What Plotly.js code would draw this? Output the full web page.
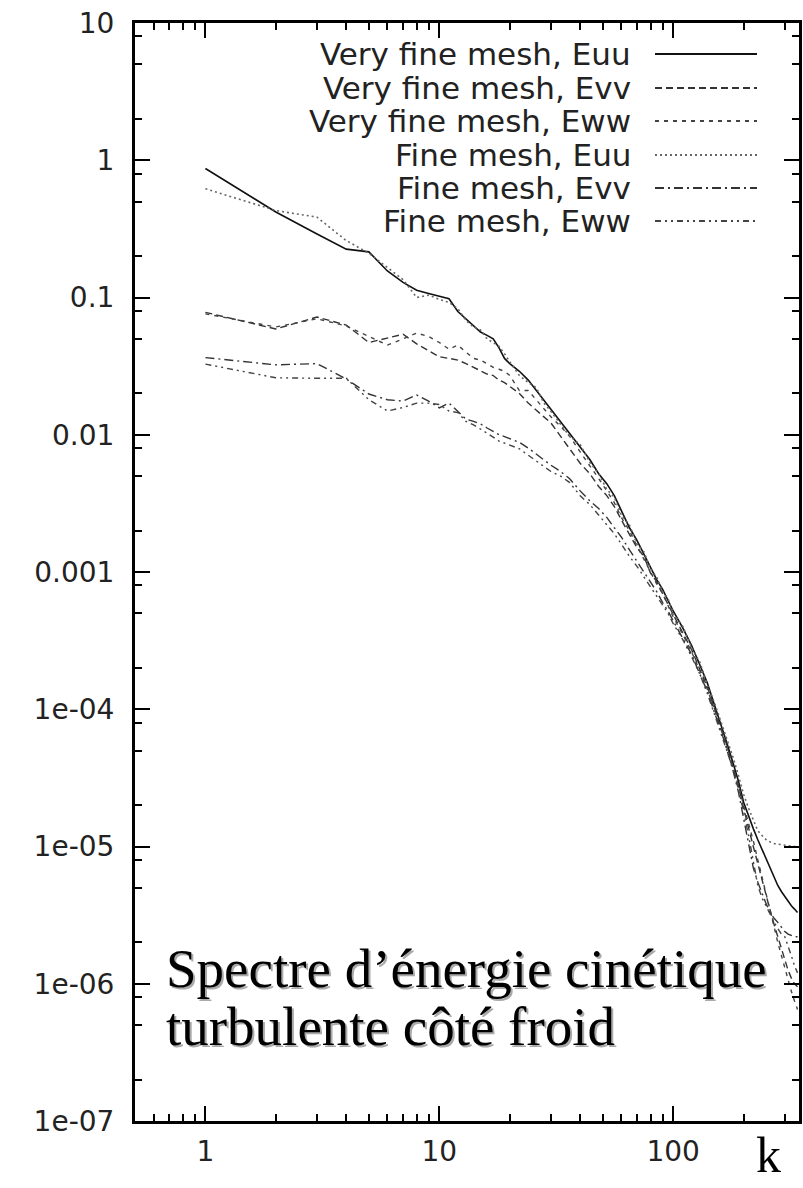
<!DOCTYPE html>
<html>
<head>
<meta charset="utf-8">
<script src="https://cdn.plot.ly/plotly-3.0.1.min.js"></script>
<style>html,body{margin:0;padding:0;background:#fff;}#chart{width:803px;height:1188px;}</style>
</head>
<body>
<div id="chart"></div>
<script>
// wavenumber k
const K = [1,2,3,4,5,6,7,8,9,10,11,12,13,14,15,16,17,18,19,20,22,24,26,28,30,33,36,40,44,48,52,56,60,65,70,75,80,85,90,95,100,110,120,130,140,150,160,170,180,190,200,210,220,230,240,250,260,270,280,290,300,310,320,330,340];

const vfEuu = [0.87,0.42,0.29,0.225,0.215,0.156,0.129,0.113,0.107,0.102, 0.098,0.079,0.070,0.063,0.056,0.053,0.050,0.043,0.036,0.033, 0.029,0.025,0.021,0.018,0.0152, 0.0125,0.0102,0.0082,0.0066,0.0052,0.0044,0.0036,0.0028, 0.0021,0.0017,0.00135,0.00108,0.00088,0.00075,0.00062,0.00052, 0.00039,0.00029,0.00021,0.000155,0.000108,7.8e-5,5.6e-5,4.1e-5,3.0e-5,2.1e-5, 1.65e-5,1.35e-5,1.12e-5,9.5e-6,8.0e-6,6.8e-6,5.9e-6,5.2e-6,4.7e-6,4.3e-6,4.0e-6,3.7e-6,3.5e-6,3.3e-6];

const vfEvv = [0.078,0.059,0.072,0.063,0.047,0.051,0.054,0.046,0.041,0.037, 0.036,0.035,0.033,0.031,0.029,0.0277,0.027,0.025,0.024,0.0224, 0.020,0.017,0.0152,0.0135,0.0122, 0.0098,0.0080,0.0062,0.0052,0.0042,0.0036,0.0030,0.0024, 0.0019,0.0015,0.0013,0.00098,0.00085,0.00069,0.00058,0.00049, 0.00036,0.00027,0.000195,0.000145,0.000102,7.4e-5,5.4e-5,3.8e-5,2.8e-5,1.9e-5, 1.4e-5,1.0e-5,7.5e-6,5.6e-6,4.3e-6,3.4e-6,2.7e-6,2.2e-6,1.8e-6,1.5e-6,1.25e-6,1.1e-6,1.0e-6,9.5e-7];

const vfEww = [0.076,0.061,0.070,0.062,0.052,0.045,0.050,0.055,0.052,0.047, 0.042,0.045,0.040,0.036,0.035,0.033,0.031,0.030,0.029,0.027, 0.021,0.021,0.018,0.0155,0.0135, 0.0115,0.0098,0.0075,0.0060,0.0048,0.0039,0.0032,0.0025, 0.0020,0.00155,0.00125,0.001,0.00082,0.0007,0.00057,0.00047, 0.00035,0.00026,0.00019,0.00014,0.0001,7.2e-5,5.2e-5,3.8e-5,2.8e-5,2.0e-5, 1.5e-5,1.1e-5,8.0e-6,6.0e-6,4.5e-6,3.4e-6,2.6e-6,2.0e-6,1.6e-6,1.3e-6,1.05e-6,8.8e-7,7.5e-7,6.5e-7];

const fEuu = [0.62,0.43,0.385,0.26,0.21,0.165,0.135,0.100,0.104,0.097, 0.092,0.083,0.068,0.061,0.058,0.050,0.047,0.044,0.039,0.034, 0.027,0.024,0.022,0.017,0.0148, 0.0118,0.0098,0.0085,0.0063,0.0052,0.0040,0.0035,0.0026, 0.0022,0.0016,0.0014,0.00105,0.00092,0.00072,0.00064,0.0005, 0.0004,0.00028,0.00022,0.00015,0.000112,8.2e-5,6.0e-5,4.5e-5,3.3e-5,2.4e-5, 1.9e-5,1.55e-5,1.3e-5,1.2e-5,1.12e-5,1.08e-5,1.05e-5,1.04e-5,1.03e-5,1.02e-5,1.02e-5,1.0e-5,1.0e-5,1.0e-5];

const fEvv = [0.0365,0.0323,0.033,0.0255,0.0198,0.018,0.0176,0.0195,0.0176,0.0157, 0.017,0.0148,0.013,0.0125,0.012,0.0112,0.0105,0.010,0.0097,0.0094, 0.0088,0.0080,0.0072,0.0066,0.0060, 0.0054,0.0048,0.0039,0.0033,0.0029,0.0025,0.0021,0.0018, 0.00145,0.0012,0.001,0.00085,0.00072,0.0006,0.00052,0.00044, 0.00033,0.00025,0.00018,0.000135,9.5e-5,7.0e-5,5.0e-5,3.6e-5,2.5e-5,1.6e-5, 1.1e-5,7.0e-6,5.5e-6,4.5e-6,3.8e-6,3.3e-6,3.0e-6,2.8e-6,2.6e-6,2.4e-6,2.3e-6,2.25e-6,2.2e-6,2.2e-6];

const fEww = [0.0327,0.026,0.0258,0.0258,0.018,0.0149,0.0158,0.017,0.017,0.0166, 0.0149,0.0145,0.0125,0.0118,0.011,0.0103,0.0096,0.0090,0.0087,0.0084, 0.0079,0.0071,0.0064,0.0059,0.0054, 0.0050,0.0045,0.0036,0.0031,0.0026,0.0022,0.0019,0.0016, 0.0013,0.0011,0.00092,0.00078,0.00068,0.00058,0.0005,0.00042, 0.00032,0.00024,0.00018,0.00013,9.2e-5,6.8e-5,5.0e-5,3.7e-5,2.6e-5,1.8e-5, 1.2e-5,8.0e-6,5.2e-6,4.2e-6,3.7e-6,3.2e-6,2.8e-6,2.5e-6,2.3e-6,2.2e-6,1.9e-6,1.6e-6,1.35e-6,1.2e-6];

const seriesNames = ["Very fine mesh, Euu","Very fine mesh, Evv","Very fine mesh, Eww","Fine mesh, Euu","Fine mesh, Evv","Fine mesh, Eww"];
const seriesValues = [vfEuu, vfEvv, vfEww, fEuu, fEvv, fEww];

const xTickVals = [1, 10, 100];
const xTickText = ["1", "10", "100"];
const xMinorVals = [0.6,0.7,0.8,0.9,2,3,4,5,6,7,8,9,20,30,40,50,60,70,80,90,200,300];
const yTickVals = [10, 1, 0.1, 0.01, 0.001, 1e-4, 1e-5, 1e-6, 1e-7];
const yTickText = ["10", "1", "0.1", "0.01", "0.001", "1e-04", "1e-05", "1e-06", "1e-07"];
const yMinorVals = [2e-7,5e-7,8e-7,2e-6,5e-6,8e-6,2e-5,5e-5,8e-5,2e-4,5e-4,8e-4,2e-3,5e-3,8e-3,0.02,0.05,0.08,0.2,0.5,0.8,2,5,8];

const titleLines = ["Spectre d\u2019\u00e9nergie cin\u00e9tique", "turbulente c\u00f4t\u00e9 froid"];
const xLabel = "k";

const dashes = ["solid", "7px,4px", "4px,5px", "2px,3px", "9px,4px,2px,4px", "6px,4px,2px,4px,2px,4px"];
const colors = ["#111", "#333", "#444", "#666", "#333", "#444"];
const widths = [1.6, 1.4, 1.4, 1.6, 1.4, 1.4];

const traces = seriesValues.map((vals, i) => ({
  x: K, y: vals, type: "scatter", mode: "lines", name: seriesNames[i],
  line: {color: colors[i], width: widths[i], dash: dashes[i]},
  showlegend: false, hoverinfo: "skip"
}));

const L = 135, R = 4, T = 23, B = 67, W = 803, H = 1188;
const pw = W - L - R, ph = H - T - B;
const px2x = p => (p - L) / pw;
const px2y = p => 1 - (p - T) / ph;

const gFam = "DejaVu Sans, Liberation Sans, Arial, sans-serif";
const gFont = {family: gFam, size: 28, color: "#222"};

const annotations = [];
const shapes = [];
const rowY = [54, 88, 121, 155, 188, 221];
seriesNames.forEach((nm, i) => {
  annotations.push({xref: "paper", yref: "paper", x: px2x(633), y: px2y(rowY[i]), xanchor: "right", yanchor: "middle",
    text: nm, showarrow: false, font: {family: gFam, size: 31, color: "#222"}});
  shapes.push({type: "line", xref: "paper", yref: "paper", x0: px2x(655), x1: px2x(757), y0: px2y(rowY[i]), y1: px2y(rowY[i]),
    line: {color: colors[i], width: widths[i] + 0.4, dash: dashes[i]}});
});

const serif = "Liberation Serif, Times New Roman, serif";
const titleY = [968, 1026];
titleLines.forEach((t, i) => {
  annotations.push({xref: "paper", yref: "paper", x: px2x(164), y: px2y(titleY[i]), xanchor: "left", yanchor: "middle",
    text: t, showarrow: false, xshift: 2, yshift: -2, font: {family: serif, size: 55, color: "#aaa"}});
  annotations.push({xref: "paper", yref: "paper", x: px2x(164), y: px2y(titleY[i]), xanchor: "left", yanchor: "middle",
    text: t, showarrow: false, font: {family: serif, size: 55, color: "#000"}});
});
annotations.push({xref: "paper", yref: "paper", x: px2x(768), y: px2y(1155), xanchor: "center", yanchor: "middle",
  text: xLabel, showarrow: false, font: {family: serif, size: 50, color: "#000"}});

const axisCommon = {
  type: "log", showline: true, linecolor: "#000", linewidth: 3, mirror: "allticks",
  ticks: "inside", ticklen: 15, tickwidth: 2, tickcolor: "#000",
  showgrid: false, zeroline: false, tickmode: "array", tickfont: gFont
};

const layout = {
  width: W, height: H,
  margin: {l: L, r: R, t: T, b: B},
  paper_bgcolor: "#fff", plot_bgcolor: "#fff",
  showlegend: false,
  xaxis: Object.assign({}, axisCommon, {
    range: [Math.log10(0.5), Math.log10(345)],
    tickvals: xTickVals, ticktext: xTickText, ticklabelstandoff: 3,
    minor: {tickmode: "array", tickvals: xMinorVals, ticks: "inside", ticklen: 7, tickwidth: 2, tickcolor: "#000"}
  }),
  yaxis: Object.assign({}, axisCommon, {
    range: [-7, 1],
    tickvals: yTickVals, ticktext: yTickText, ticklabelstandoff: 12,
    minor: {tickmode: "array", tickvals: yMinorVals, ticks: "inside", ticklen: 7, tickwidth: 2, tickcolor: "#000"}
  }),
  annotations: annotations,
  shapes: shapes
};

Plotly.newPlot("chart", traces, layout, {staticPlot: true, displayModeBar: false});
</script>
</body>
</html>
